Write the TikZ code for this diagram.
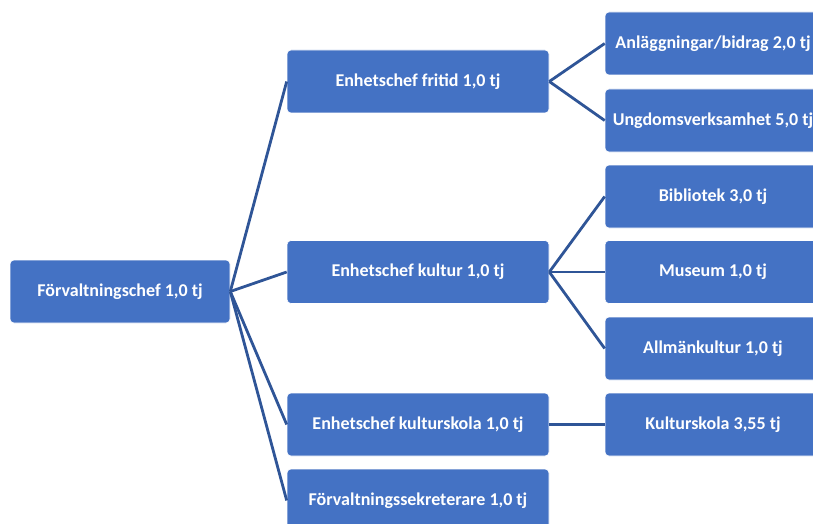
\documentclass[tikz,border=0pt]{standalone}
\usepackage{fontspec}
\setmainfont{Carlito}
\definecolor{boxblue}{RGB}{68,114,196}
\definecolor{lineblue}{RGB}{47,85,151}
\tikzset{
    orgbox/.style={draw=white, line width=0.6pt, fill=boxblue, rounded corners=4pt,
        text=white, font=\bfseries\fontsize{18}{20}\selectfont,
        minimum height=63pt, inner sep=0pt},
    rootbox/.style={orgbox, minimum width=220pt},
    unitbox/.style={orgbox, minimum width=262pt},
    subbox/.style={orgbox, minimum width=216pt},
    link/.style={draw=lineblue, line width=2.8pt}
}
\begin{document}
\begin{tikzpicture}[x=1pt,y=-1pt]
    \useasboundingbox (0,0) rectangle (813,524);
    \clip (0,0) rectangle (813,524);

    %% chief
    \node [rootbox] (chef) at (120,291.5) {Förvaltningschef 1,0 tj};

    %% units
    \node [unitbox] (fritid)   at (418,81.5)  {Enhetschef fritid 1,0 tj};
    \node [unitbox] (kultur)   at (418,272)   {Enhetschef kultur 1,0 tj};
    \node [unitbox] (skola)    at (418,424.5) {Enhetschef kulturskola 1,0 tj};
    \node [unitbox] (sekr)     at (418,500.5) {Förvaltningssekreterare 1,0 tj};

    %% sub units
    \node [subbox] (anl)      at (713,43.5)  {Anläggningar/bidrag 2,0 tj};
    \node [subbox] (ungdom)   at (713,120.5) {Ungdomsverksamhet 5,0 tj};
    \node [subbox] (bibl)     at (713,196.5) {Bibliotek 3,0 tj};
    \node [subbox] (museum)   at (713,272)   {Museum 1,0 tj};
    \node [subbox] (allman)   at (713,348.5) {Allmänkultur 1,0 tj};
    \node [subbox] (kskola)   at (713,424.5) {Kulturskola 3,55 tj};

    %% links
    \draw [link] (chef.east) -- (fritid.west);
    \draw [link] (chef.east) -- (kultur.west);
    \draw [link] (chef.east) -- (skola.west);
    \draw [link] (chef.east) -- (sekr.west);

    \draw [link] (fritid.east) -- (anl.west);
    \draw [link] (fritid.east) -- (ungdom.west);

    \draw [link] (kultur.east) -- (bibl.west);
    \draw [link] (kultur.east) -- (museum.west);
    \draw [link] (kultur.east) -- (allman.west);

    \draw [link] (skola.east) -- (kskola.west);
\end{tikzpicture}
\end{document}
